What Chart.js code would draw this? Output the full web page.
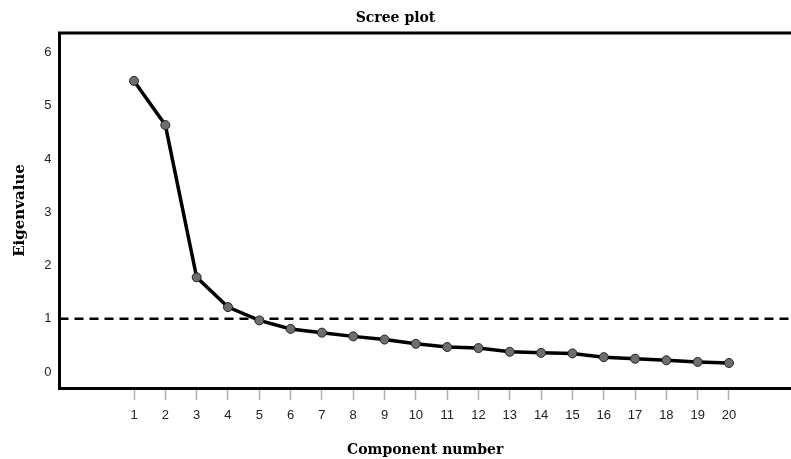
<!DOCTYPE html>
<html>
<head>
<meta charset="utf-8">
<script src="https://cdn.jsdelivr.net/npm/chart.js@4"></script>
<style>
  html, body { margin: 0; padding: 0; background: #ffffff; }
  #wrap { width: 791px; height: 459px; }
</style>
</head>
<body>
<div id="wrap"><canvas id="c" width="791" height="459"></canvas></div>
<script>
// ---- data ----
const components = [1, 2, 3, 4, 5, 6, 7, 8, 9, 10, 11, 12, 13, 14, 15, 16, 17, 18, 19, 20];
const eigenvalues = [5.47, 4.64, 1.78, 1.22, 0.97, 0.81, 0.74, 0.67, 0.61, 0.53,
                     0.47, 0.45, 0.38, 0.36, 0.35, 0.28, 0.25, 0.22, 0.19, 0.17];
const yTickValues = [0, 1, 2, 3, 4, 5, 6];
const referenceLine = 1;   // Kaiser criterion (eigenvalue = 1)

const chartTitle = 'Scree plot';
const xTitle = 'Component number';
const yTitle = 'Eigenvalue';

const points = components.map((c, i) => ({ x: c, y: eigenvalues[i] }));

const serif = "'DejaVu Serif', 'Liberation Serif', serif";
const sans = "'Liberation Sans', Arial, sans-serif";

const framePlugin = {
  id: 'frameTop',
  beforeDatasetsDraw(chart) {
    const { ctx, chartArea, scales } = chart;
    const y = scales.y.getPixelForValue(referenceLine);
    ctx.save();
    ctx.strokeStyle = '#000';
    ctx.lineWidth = 2.5;
    ctx.setLineDash([9, 6]);
    ctx.beginPath();
    ctx.moveTo(chartArea.left, y);
    ctx.lineTo(chartArea.right, y);
    ctx.stroke();
    ctx.restore();
  },
  afterDraw(chart) {
    const { ctx, chartArea } = chart;
    ctx.save();
    ctx.strokeStyle = '#000';
    ctx.lineWidth = 3;
    ctx.beginPath();
    ctx.moveTo(chartArea.left - 1.5, chartArea.top);
    ctx.lineTo(chartArea.right, chartArea.top);
    ctx.stroke();
    ctx.restore();
  }
};

new Chart(document.getElementById('c'), {
  type: 'line',
  data: {
    datasets: [{
      data: points,
      borderColor: '#000',
      borderWidth: 3.5,
      tension: 0,
      pointRadius: 4.5,
      pointBackgroundColor: '#6e6e6e',
      pointBorderColor: '#222',
      pointBorderWidth: 1,
      clip: false
    }]
  },
  options: {
    responsive: false,
    animation: false,
    devicePixelRatio: 1,
    layout: { padding: 0, autoPadding: false },
    plugins: {
      legend: { display: false },
      tooltip: { enabled: false },
      title: {
        display: true,
        text: chartTitle,
        color: '#000',
        font: { family: serif, size: 14, weight: 'bold', lineHeight: 1.2 },
        padding: { top: 10, bottom: 6.2 }
      }
    },
    scales: {
      x: {
        type: 'linear',
        min: -1.38,
        max: 21.98,
        afterFit(scale) { scale.height = 71; scale.paddingLeft = 0; scale.paddingRight = 0; },
        afterBuildTicks(scale) { scale.ticks = components.map(v => ({ value: v })); },
        grid: {
          drawOnChartArea: false,
          drawTicks: true,
          tickLength: 12,
          tickColor: '#b0b0b0',
          tickWidth: 1.5
        },
        border: { display: true, color: '#000', width: 3 },
        ticks: {
          color: '#222',
          font: { family: sans, size: 13 },
          padding: 8,
          maxRotation: 0,
          autoSkip: false
        },
        title: {
          display: true,
          text: xTitle,
          color: '#000',
          font: { family: serif, size: 14, weight: 'bold', lineHeight: 1.2 },
          padding: { top: 4, bottom: 0 }
        }
      },
      y: {
        type: 'linear',
        min: -0.3,
        max: 6.37,
        afterFit(scale) { scale.width = 59.5; },
        afterBuildTicks(scale) { scale.ticks = yTickValues.map(v => ({ value: v })); },
        grid: { drawOnChartArea: false, drawTicks: false },
        border: { display: true, color: '#000', width: 3 },
        ticks: {
          color: '#222',
          font: { family: sans, size: 13 },
          padding: 8
        },
        title: {
          display: true,
          text: yTitle,
          color: '#000',
          font: { family: serif, size: 15, weight: 'bold', lineHeight: 1.2 },
          padding: { top: 11, bottom: 0 }
        }
      }
    }
  },
  plugins: [framePlugin]
});
</script>
</body>
</html>
